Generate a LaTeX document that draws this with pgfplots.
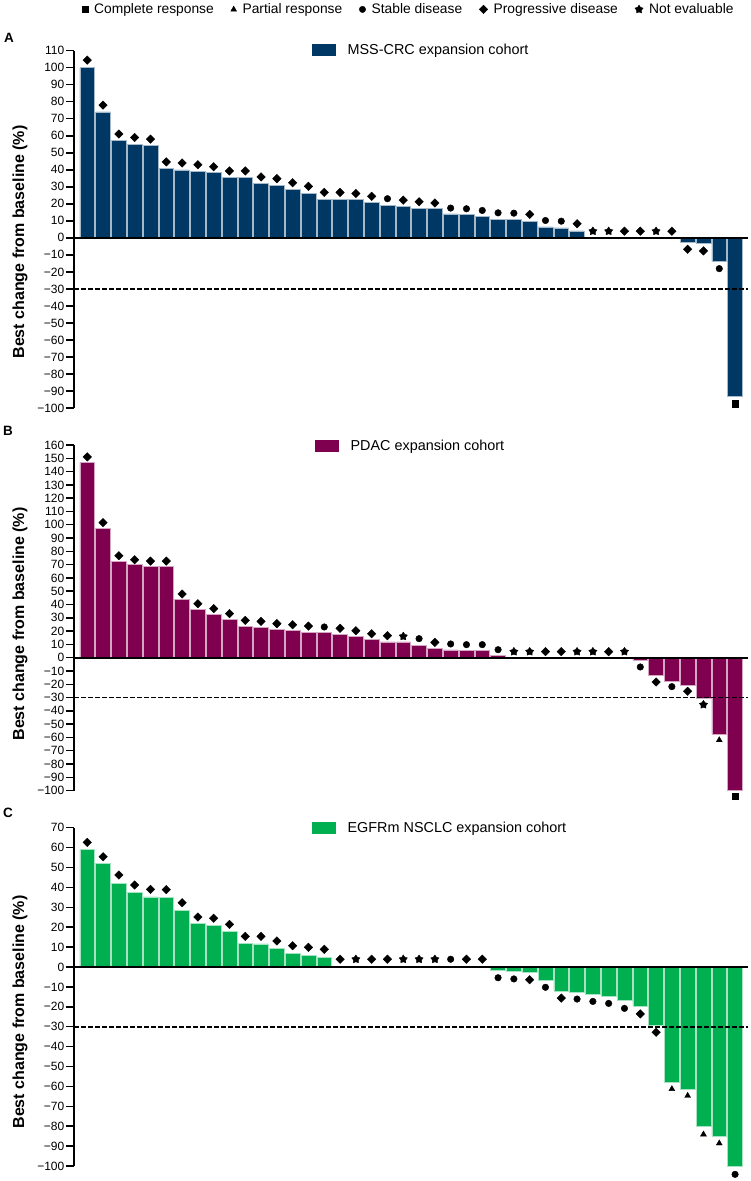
\documentclass[border=0pt]{standalone}
\usepackage{pgfplots}
\pgfplotsset{compat=1.18}
\usepackage{fontspec}
\setmainfont{Liberation Sans}

\definecolor{crc}{RGB}{0,56,101}
\definecolor{pdac}{RGB}{128,0,80}
\definecolor{nsclc}{RGB}{0,176,80}

% filled five-point star for "not evaluable"
\pgfdeclareplotmark{nestar}{%
  \pgfpathmoveto{\pgfpointpolar{90}{\pgfplotmarksize}}%
  \pgfpathlineto{\pgfpointpolar{126}{0.6\pgfplotmarksize}}%
  \pgfpathlineto{\pgfpointpolar{162}{\pgfplotmarksize}}%
  \pgfpathlineto{\pgfpointpolar{198}{0.6\pgfplotmarksize}}%
  \pgfpathlineto{\pgfpointpolar{234}{\pgfplotmarksize}}%
  \pgfpathlineto{\pgfpointpolar{270}{0.6\pgfplotmarksize}}%
  \pgfpathlineto{\pgfpointpolar{306}{\pgfplotmarksize}}%
  \pgfpathlineto{\pgfpointpolar{342}{0.6\pgfplotmarksize}}%
  \pgfpathlineto{\pgfpointpolar{18}{\pgfplotmarksize}}%
  \pgfpathlineto{\pgfpointpolar{54}{0.6\pgfplotmarksize}}%
  \pgfpathclose
  \pgfusepathqfillstroke}

\pgfplotsset{
  wf/.style={
    scale only axis, width=673.7pt,
    xmin=-0.84, xmax=41.8, clip=false,
    axis x line=none, axis y line*=left,
    y axis line style={line width=1.8pt, black},
    tick align=outside, major tick length=8pt,
    ytick style={line width=1.5pt, black},
    yticklabel style={font=\fontsize{12}{13}\selectfont, inner sep=1.5pt},
    legend style={draw=none, fill=none, inner sep=0pt, anchor=west,
      font=\fontsize{14.4}{15}\selectfont,
      /tikz/every even column/.append style={column sep=0pt},
      /tikz/every odd column/.append style={column sep=10pt}},
  },
  bars/.style={ybar, bar width=0.94, fill=#1, draw=#1!35!white, line width=0.5pt, forget plot},
  zl/.style={black, line width=1.8pt, forget plot},
  dl/.style={black, line width=1.8pt, dash pattern=on 4.5pt off 2.5pt, forget plot},
  CR/.style={only marks, black, mark=square*, mark size=3.2pt, forget plot},
  PR/.style={only marks, black, mark=triangle*, mark size=3.4pt, forget plot},
  SD/.style={only marks, black, mark=*, mark size=3.3pt, forget plot},
  PD/.style={only marks, black, mark=square*, mark size=3pt, mark options={rotate=45}, forget plot},
  NE/.style={only marks, black, mark=nestar, mark size=4.3pt, forget plot},
}

\begin{document}
\begin{tikzpicture}
\useasboundingbox (0pt,0pt) rectangle (750pt,1181pt);

% ---------- top legend of response categories
\begin{axis}[at={(0pt,0pt)}, anchor=south west, scale only axis,
  width=750pt, height=1181pt, hide axis,
  xmin=0, xmax=1, ymin=0, ymax=1,
  legend columns=5,
  legend style={at={(0.1093,0.992)}, anchor=west, draw=none, fill=none,
    inner sep=0pt, font=\fontsize{13.8}{15}\selectfont,
    /tikz/every odd column/.append style={column sep=4pt},
    /tikz/every even column/.append style={column sep=15pt},
    /tikz/column 7/.append style={column sep=1pt},
    /tikz/column 9/.append style={column sep=1pt}}]
\addlegendimage{only marks, black, mark=square*, mark size=3pt}
\addlegendentry{Complete response}
\addlegendimage{only marks, black, mark=triangle*, mark size=3.3pt}
\addlegendentry{Partial response}
\addlegendimage{only marks, black, mark=*, mark size=3.2pt}
\addlegendentry{Stable disease}
\addlegendimage{only marks, black, mark=square*, mark size=3pt, mark options={rotate=45}}
\addlegendentry{Progressive disease}
\addlegendimage{only marks, black, mark=nestar, mark size=4.3pt}
\addlegendentry{Not evaluable}
\end{axis}

% ---------- A: MSS-CRC
\begin{axis}[wf, at={(74pt,773pt)}, anchor=south west, height=357.3pt,
  ymin=-100, ymax=110,
  ytick={-100,-90,-80,-70,-60,-50,-40,-30,-20,-10,0,10,20,30,40,50,60,70,80,90,100,110},
  yticklabels={−100,−90,−80,−70,−60,−50,−40,−30,−20,−10,0,10,20,30,40,50,60,70,80,90,100,110},
  legend style={at={(0.3533,1.003)}}]
\addplot[bars=crc] coordinates {
  (0,100) (1,74) (2,57.2) (3,54.8) (4,54.4) (5,40.7) (6,39.9) (7,39.1) (8,38.3)
  (9,35.6) (10,35.6) (11,31.8) (12,30.8) (13,28.7) (14,26.3) (15,22.8) (16,22.8)
  (17,22.6) (18,20.8) (19,19.3) (20,18.5) (21,17.5) (22,17.3) (23,14.1) (24,13.6)
  (25,12.6) (26,11) (27,11) (28,9.8) (29,6.5) (30,5.9) (31,4.1)
  (38,-2.8) (39,-3.1) (40,-13.8) (41,-93.3)};
\addplot[zl] coordinates {(-0.84,0) (41.8,0)};
\addplot[dl] coordinates {(-0.84,-30) (41.8,-30)};
\addplot[PD] coordinates {
  (0,104.5) (1,78) (2,61) (3,59) (4,58) (5,44.6) (6,44) (7,43) (8,41.8) (9,39.3)
  (10,39.3) (11,35.8) (12,34.8) (13,32.4) (14,30.3) (15,26.7) (16,26.7) (17,26.1)
  (18,24.4) (20,22.2) (21,21.2) (22,20.5) (28,13.8) (31,8.3) (34,3.9) (35,3.9)
  (37,3.9) (38,-6.7) (39,-7.7)};
\addplot[SD] coordinates {
  (19,23) (23,17.5) (24,17.1) (25,16.1) (26,14.7) (27,14.5) (29,10.2) (30,9.8) (40,-18.1)};
\addplot[NE] coordinates {(32,3.9) (33,3.9) (36,3.9)};
\addplot[CR] coordinates {(41,-97.4)};
\addlegendimage{legend image code/.code={\fill[crc] (0pt,-5.5pt) rectangle (23pt,5.5pt);}}
\addlegendentry{MSS-CRC expansion cohort}
\end{axis}

% ---------- B: PDAC
\begin{axis}[wf, at={(74pt,390.4pt)}, anchor=south west, height=345.6pt,
  ymin=-100, ymax=160,
  ytick={-100,-90,-80,-70,-60,-50,-40,-30,-20,-10,0,10,20,30,40,50,60,70,80,90,100,110,120,130,140,150,160},
  yticklabels={−100,−90,−80,−70,−60,−50,−40,−30,−20,−10,0,10,20,30,40,50,60,70,80,90,100,110,120,130,140,150,160},
  legend style={at={(0.3577,0.997)}}]
\addplot[bars=pdac] coordinates {
  (0,146.7) (1,97.5) (2,72.7) (3,70) (4,68.5) (5,68.5) (6,43.6) (7,36.1) (8,32.8)
  (9,28.6) (10,23.6) (11,22.8) (12,21.3) (13,20.6) (14,19.3) (15,19.3) (16,17.8)
  (17,16) (18,14) (19,11.8) (20,11.8) (21,9.5) (22,7) (23,5.8) (24,5.3) (25,5.3)
  (26,1.5) (35,-2.3) (36,-13.5) (37,-18) (38,-20.6) (39,-30.8) (40,-57.4) (41,-99.5)};
\addplot[zl] coordinates {(-0.84,0) (41.8,0)};
\addplot[dl] coordinates {(-0.84,-30) (41.8,-30)};
\addplot[PD] coordinates {
  (0,151) (1,101.6) (2,76.7) (3,73.7) (4,72.7) (5,72.7) (6,47.9) (7,40.6) (8,36.9)
  (9,33.1) (10,28.1) (11,27.3) (12,25.6) (13,24.8) (14,23.8) (16,22.1) (17,20.3)
  (18,18) (19,16.5) (22,11.5) (29,4.5) (30,4.5) (33,4.5) (36,-18.3) (38,-25.3)};
\addplot[SD] coordinates {
  (15,23.1) (21,14.3) (23,10.3) (24,9.8) (25,9.8) (26,6) (35,-7) (37,-21.8)};
\addplot[NE] coordinates {(20,16) (27,4.5) (28,4.5) (31,4.5) (32,4.5) (34,4.5) (39,-35.4)};
\addplot[PR] coordinates {(40,-62)};
\addplot[CR] coordinates {(41,-104)};
\addlegendimage{legend image code/.code={\fill[pdac] (0pt,-5.5pt) rectangle (23pt,5.5pt);}}
\addlegendentry{PDAC expansion cohort}
\end{axis}

% ---------- C: EGFRm NSCLC
\begin{axis}[wf, at={(74pt,15pt)}, anchor=south west, height=338.3pt,
  ymin=-100, ymax=70,
  ytick={-100,-90,-80,-70,-60,-50,-40,-30,-20,-10,0,10,20,30,40,50,60,70},
  yticklabels={−100,−90,−80,−70,−60,−50,−40,−30,−20,−10,0,10,20,30,40,50,60,70},
  legend style={at={(0.3533,1.0)}}]
\addplot[bars=nsclc] coordinates {
  (0,59.1) (1,51.9) (2,42.2) (3,37.5) (4,35.3) (5,34.8) (6,28.5) (7,21.8) (8,20.9)
  (9,17.9) (10,11.9) (11,11.6) (12,9.5) (13,6.9) (14,5.9) (15,4.9)
  (26,-1.7) (27,-2.2) (28,-2.5) (29,-6.5) (30,-12.1) (31,-12.6) (32,-13.7) (33,-14.6)
  (34,-16.8) (35,-19.5) (36,-29.1) (37,-57.8) (38,-61.3) (39,-80.2) (40,-84.8) (41,-100.3)};
\addplot[zl] coordinates {(-0.84,0) (41.8,0)};
\addplot[dl] coordinates {(-0.84,-30) (41.8,-30)};
\addplot[PD] coordinates {
  (0,62.6) (1,55.4) (2,46.2) (3,41.2) (4,39) (5,38.9) (6,32.3) (7,25.1) (8,24.5)
  (9,21.4) (10,15.4) (11,15.4) (12,13.1) (13,10.7) (14,9.9) (15,8.9) (16,3.9)
  (18,3.9) (19,3.9) (24,3.9) (25,3.9) (28,-6.4) (30,-15.6) (35,-23.6) (36,-32.8)};
\addplot[SD] coordinates {
  (23,3.9) (26,-5.4) (27,-6) (29,-10.2) (31,-16.1) (32,-17.3) (33,-18.3) (34,-20.8) (41,-104.2)};
\addplot[NE] coordinates {(17,3.9) (20,3.9) (21,3.9) (22,3.9)};
\addplot[PR] coordinates {(37,-61.3) (38,-64.7) (39,-84.1) (40,-88.6)};
\addlegendimage{legend image code/.code={\fill[nsclc] (0pt,-5.5pt) rectangle (23pt,5.5pt);}}
\addlegendentry{EGFRm NSCLC expansion cohort}
\end{axis}

% ---------- panel letters and axis titles
\node[font=\bfseries\fontsize{13.5}{14}\selectfont] at (9pt,1143pt) {A};
\node[font=\bfseries\fontsize{13.5}{14}\selectfont] at (8pt,750pt) {B};
\node[font=\bfseries\fontsize{13.5}{14}\selectfont] at (8pt,368pt) {C};
\node[rotate=90, font=\bfseries\fontsize{16}{17}\selectfont] at (20pt,939pt) {Best change from baseline (\%)};
\node[rotate=90, font=\bfseries\fontsize{16}{17}\selectfont] at (20pt,557pt) {Best change from baseline (\%)};
\node[rotate=90, font=\bfseries\fontsize{16}{17}\selectfont] at (20pt,169pt) {Best change from baseline (\%)};
\end{tikzpicture}
\end{document}
